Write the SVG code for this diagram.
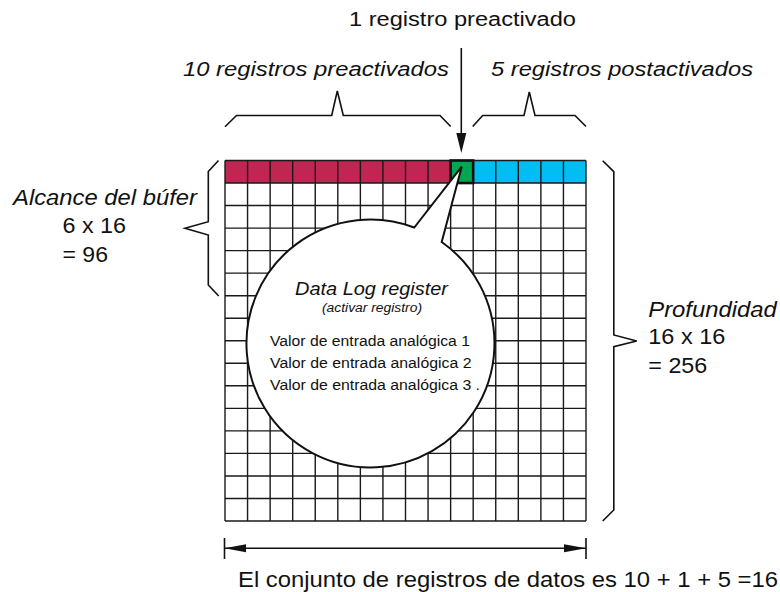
<svg xmlns="http://www.w3.org/2000/svg" width="780" height="592" viewBox="0 0 780 592">
<defs>
<style>
text{font-family:"Liberation Sans",Arial,sans-serif;fill:#111}
.it{font-style:italic}
.br{fill:none;stroke:#111;stroke-width:1.6;stroke-linejoin:miter}
.grid{fill:none;stroke:#1a1a1a;stroke-width:1.4}
.ln{stroke:#111;stroke-width:1.6;fill:none}
.hd{fill:#111}
</style>
</defs>
<rect width="780" height="592" fill="#fff"/>
<g id="buffer-grid">
<rect x="225" y="160.5" width="225.63" height="22.53" fill="#C12552"/>
<rect x="473.19" y="160.5" width="112.81" height="22.53" fill="#00BDF2"/>
<path class="grid" d="M225,160.5V521M247.56,160.5V521M270.13,160.5V521M292.69,160.5V521M315.25,160.5V521M337.81,160.5V521M360.38,160.5V521M382.94,160.5V521M405.5,160.5V521M428.06,160.5V521M450.63,160.5V521M473.19,160.5V521M495.75,160.5V521M518.31,160.5V521M540.88,160.5V521M563.44,160.5V521M586,160.5V521M225,160.5H586M225,183.03H586M225,205.56H586M225,228.09H586M225,250.63H586M225,273.16H586M225,295.69H586M225,318.22H586M225,340.75H586M225,363.28H586M225,385.81H586M225,408.34H586M225,430.88H586M225,453.41H586M225,475.94H586M225,498.47H586M225,521H586"/>
</g>
<g id="active-cell">
<rect x="450.63" y="160.5" width="22.56" height="22.53" fill="#00A651" stroke="#111" stroke-width="2.6"/>
</g>
<g id="bubble">
<path d="M414.3,227.5 L461.7,166.7 L441.7,242 A124,124 0 1 1 414.3,227.5 Z" fill="#fff" stroke="#111" stroke-width="2"/>
<text x="295" y="295" class="it" font-size="18" textLength="153" lengthAdjust="spacingAndGlyphs">Data Log register</text>
<text x="322" y="311.5" class="it" font-size="12.5" textLength="100" lengthAdjust="spacingAndGlyphs">(activar registro)</text>
<text x="270" y="346" font-size="15.5" textLength="200" lengthAdjust="spacingAndGlyphs">Valor de entrada analógica 1</text>
<text x="270" y="368.3" font-size="15.5" textLength="201.5" lengthAdjust="spacingAndGlyphs">Valor de entrada analógica 2</text>
<text x="270" y="390" font-size="15.5" textLength="210" lengthAdjust="spacingAndGlyphs">Valor de entrada analógica 3 .</text>
</g>
<g id="connectors">
<line class="ln" x1="461.3" y1="48" x2="461.3" y2="136"/>
<polygon class="hd" points="456.3,133 466.3,133 461.3,153"/>
<line class="ln" x1="224.5" y1="548.3" x2="586" y2="548.3"/>
<line class="ln" x1="224.5" y1="538" x2="224.5" y2="559"/>
<line class="ln" x1="586" y1="538" x2="586" y2="559"/>
<polygon class="hd" points="224.5,548.3 246,544.3 246,552.3"/>
<polygon class="hd" points="586,548.3 564,544.3 564,552.3"/>
</g>
<g id="brace-pre">
<path class="br" d="M225,126.7 L236.5,115.5 H331.7 L337.3,91 L343.3,115.5 H440 L450.7,126.5"/>
<text x="183" y="76" class="it" font-size="20" textLength="266" lengthAdjust="spacingAndGlyphs">10 registros preactivados</text>
</g>
<g id="brace-post">
<path class="br" d="M472.7,126.5 L482.7,115.5 H524 L529.3,92 L535,115.5 H575 L586,126.5"/>
<text x="491" y="76" class="it" font-size="20" textLength="262" lengthAdjust="spacingAndGlyphs">5 registros postactivados</text>
</g>
<g id="label-active">
<text x="349" y="26" font-size="20" textLength="227" lengthAdjust="spacingAndGlyphs">1 registro preactivado</text>
</g>
<g id="brace-alcance">
<path class="br" d="M218.5,160.5 L208.3,171.5 V221.7 L185,228.3 L208.3,235 V285 L218.7,296"/>
<text x="13" y="205" class="it" font-size="21.5" textLength="184" lengthAdjust="spacingAndGlyphs">Alcance del búfer</text>
<text x="62.5" y="233.3" font-size="21.5" textLength="63.5" lengthAdjust="spacingAndGlyphs">6 x 16</text>
<text x="62.5" y="261.7" font-size="21.5" textLength="45.5" lengthAdjust="spacingAndGlyphs">= 96</text>
</g>
<g id="brace-profundidad">
<path class="br" d="M602.7,160.7 L613.8,171.7 V335 L636.7,341 L613.8,346.7 V510 L602.7,521"/>
<text x="648.3" y="316.7" class="it" font-size="21.5" textLength="128.5" lengthAdjust="spacingAndGlyphs">Profundidad</text>
<text x="648.3" y="344.3" font-size="21.5" textLength="77" lengthAdjust="spacingAndGlyphs">16 x 16</text>
<text x="648.3" y="373.3" font-size="21.5" textLength="59" lengthAdjust="spacingAndGlyphs">= 256</text>
</g>
<g id="label-total">
<text x="238" y="586.5" font-size="21.5" textLength="540" lengthAdjust="spacingAndGlyphs">El conjunto de registros de datos es 10 + 1 + 5 =16</text>
</g>
</svg>
